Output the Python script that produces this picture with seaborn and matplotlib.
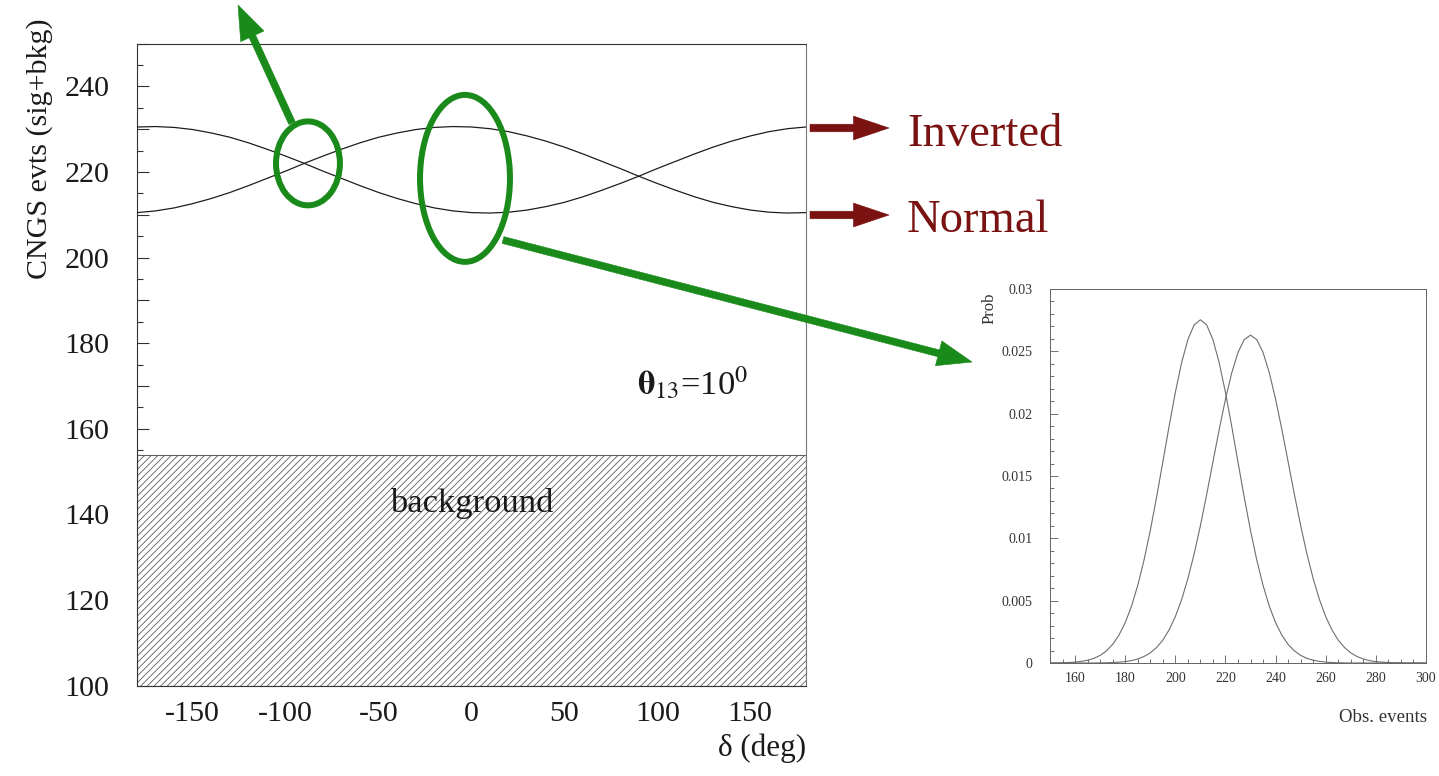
import numpy as np
import pandas as pd
import matplotlib
matplotlib.use("Agg")
import matplotlib.pyplot as plt
import seaborn as sns
from matplotlib.patches import Ellipse, FancyArrowPatch, ArrowStyle
from matplotlib.ticker import MultipleLocator, FuncFormatter

# ---- CP-phase scan: expected CNGS events (signal + background) ----
delta_deg = list(range(-180, 181, 10))
inverted_evts = [230.5, 230.6, 230.4, 229.9, 229.1, 228.1, 226.8, 225.3, 223.7, 222.0,
                 220.2, 218.5, 216.8, 215.2, 213.8, 212.6, 211.6, 210.9, 210.5, 210.4,
                 210.6, 211.1, 211.9, 212.9, 214.2, 215.7, 217.3, 219.0, 220.8, 222.5,
                 224.2, 225.8, 227.2, 228.4, 229.4, 230.1, 230.5]
normal_evts = [210.5, 210.9, 211.6, 212.6, 213.8, 215.2, 216.8, 218.5, 220.2, 222.0,
               223.7, 225.3, 226.8, 228.1, 229.1, 229.9, 230.4, 230.6, 230.5, 230.1,
               229.4, 228.4, 227.2, 225.8, 224.2, 222.5, 220.8, 219.0, 217.3, 215.7,
               214.2, 212.9, 211.9, 211.1, 210.6, 210.4, 210.5]
background_evts = 154.0

# ---- probability of the observed number of events at delta = 0 ----
obs_events = np.arange(150, 300.1, 2.5)
prob_normal = [0.0, 0.00001, 0.00002, 0.00004, 0.00007, 0.00013, 0.00022, 0.00037,
               0.00061, 0.00097, 0.00149, 0.00223, 0.00323, 0.00455, 0.00622, 0.00825,
               0.01062, 0.01328, 0.01611, 0.01898, 0.02170, 0.02408, 0.02594, 0.02712,
               0.02753, 0.02712, 0.02594, 0.02408, 0.02170, 0.01898, 0.01611, 0.01328,
               0.01062, 0.00825, 0.00622, 0.00455, 0.00323, 0.00223, 0.00149, 0.00097,
               0.00061, 0.00037, 0.00022, 0.00013, 0.00007, 0.00004, 0.00002, 0.00001,
               0.0, 0.0, 0.0, 0.0, 0.0, 0.0, 0.0, 0.0, 0.0, 0.0, 0.0, 0.0, 0.0]
prob_inverted = [0.0, 0.0, 0.0, 0.0, 0.0, 0.0, 0.0, 0.0,
                 0.00001, 0.00002, 0.00004, 0.00007, 0.00011, 0.00019, 0.00032, 0.00052,
                 0.00081, 0.00124, 0.00183, 0.00265, 0.00372, 0.00508, 0.00676, 0.00875,
                 0.01102, 0.01352, 0.01613, 0.01873, 0.02116, 0.02327, 0.02491, 0.02594,
                 0.02630, 0.02594, 0.02491, 0.02327, 0.02116, 0.01873, 0.01613, 0.01352,
                 0.01102, 0.00875, 0.00676, 0.00508, 0.00372, 0.00265, 0.00183, 0.00124,
                 0.00081, 0.00052, 0.00032, 0.00019, 0.00011, 0.00007, 0.00004, 0.00002,
                 0.00001, 0.0, 0.0, 0.0, 0.0]

scan = pd.DataFrame({
    "delta": delta_deg * 2,
    "evts": inverted_evts + normal_evts,
    "hierarchy": ["Inverted"] * len(delta_deg) + ["Normal"] * len(delta_deg),
})
prob = pd.DataFrame({
    "obs": list(obs_events) * 2,
    "prob": prob_normal + prob_inverted,
    "hierarchy": ["Normal"] * len(obs_events) + ["Inverted"] * len(obs_events),
})

sns.set_style("ticks")
plt.rcParams["font.family"] = ["Liberation Serif", "DejaVu Serif"]
plt.rcParams["mathtext.fontset"] = "stix"
plt.rcParams["hatch.linewidth"] = 0.75

W, H, DPI = 1439, 776, 80
fig = plt.figure(figsize=(W / DPI, H / DPI), dpi=DPI)
fig.patch.set_facecolor("white")


def fp(x, y):
    """Figure pixel position (from top-left) to figure fraction."""
    return (x / W, 1 - y / H)


GREEN = "#1a8a1a"
DARKRED = "#7a1212"
INK = "#1a1a1a"

# ---------------- main panel ----------------
ax = fig.add_axes([137 / W, (H - 685.7) / H, (806 - 137) / W, (685.7 - 43.5) / H])
ax.fill_between([-180, 180], 100, background_evts, facecolor="white",
                edgecolor="#5e5e5e", hatch="////", linewidth=1.0, zorder=1)
sns.lineplot(data=scan, x="delta", y="evts", hue="hierarchy",
             palette={"Inverted": INK, "Normal": INK}, linewidth=1.1,
             legend=False, sort=True, ax=ax, zorder=3)
ax.set_xlim(-180, 180)
ax.set_ylim(100, 250)
ax.set_xlabel("")
ax.set_ylabel("")
ax.xaxis.set_major_locator(MultipleLocator(50))
ax.xaxis.set_minor_locator(MultipleLocator(12.5))
ax.yaxis.set_major_locator(MultipleLocator(10))
ax.yaxis.set_minor_locator(MultipleLocator(5))
ax.yaxis.set_major_formatter(FuncFormatter(lambda v, p: f"{v:.0f}" if round(v) % 20 == 0 else ""))
ax.xaxis.set_major_formatter(FuncFormatter(lambda v, p: f"{v:.0f}"))
ax.tick_params(axis="both", which="both", direction="in", top=False, right=False,
               colors="#333333", labelcolor=INK, width=1.0)
ax.tick_params(axis="y", which="major", length=11, pad=25, labelsize=27)
ax.tick_params(axis="y", which="minor", length=5)
ax.tick_params(axis="x", which="major", length=14, pad=14, labelsize=27)
ax.tick_params(axis="x", which="minor", length=6)
for side, sp in ax.spines.items():
    sp.set_color("#333333" if side != "right" else "#777777")
    sp.set_linewidth(1.0)

ax.text(0, 142.5, "background", ha="center", va="center", fontsize=31, color=INK, zorder=4)
ax.text(89, 168, r"$\mathbf{\theta}_{13}$=10$^0$", ha="left", va="baseline",
        fontsize=31, color=INK)

# highlighted regions
ax.add_patch(Ellipse((-88, 222), 34.4, 19.6, fill=False, edgecolor=GREEN,
                     linewidth=5.4, zorder=5, clip_on=False))
ax.add_patch(Ellipse((-3.5, 218.5), 48.4, 39.0, fill=False, edgecolor=GREEN,
                     linewidth=5.4, zorder=5, clip_on=False))

fig.text(*fp(40, 18), "CNGS evts (sig+bkg)", rotation=90, ha="center", va="top",
         fontsize=27, color=INK)
fig.text(*fp(806, 748), "δ (deg)", ha="right", va="center", fontsize=28, color=INK)

# ---------------- arrows and hierarchy labels ----------------
def arrow(tail, tip, color, hl, hw, tw):
    a = FancyArrowPatch(fp(*tail), fp(*tip), transform=fig.transFigure,
                        arrowstyle=ArrowStyle("simple", head_length=hl, head_width=hw,
                                              tail_width=tw),
                        mutation_scale=1, color=color, linewidth=0.5,
                        shrinkA=0, shrinkB=0, zorder=6)
    fig.add_artist(a)


arrow((292, 123), (238, 5), GREEN, 31, 23, 6.3)
arrow((503, 240), (972, 362), GREEN, 31, 23, 6.3)
arrow((810, 128), (889, 128), DARKRED, 32, 21.5, 6.8)
arrow((810, 215), (889, 215), DARKRED, 32, 21.5, 6.8)

fig.text(*fp(907, 146), "Inverted", ha="left", va="baseline", fontsize=42, color=DARKRED)
fig.text(*fp(907, 232), "Normal", ha="left", va="baseline", fontsize=42, color=DARKRED)

# ---------------- inset: observed-event distributions ----------------
axi = fig.add_axes([1050 / W, (H - 663) / H, 376 / W, 374 / H])
sns.lineplot(data=prob, x="obs", y="prob", hue="hierarchy",
             palette={"Normal": "#6e6e6e", "Inverted": "#6e6e6e"}, linewidth=1.0,
             legend=False, ax=axi)
axi.set_xlim(150, 300)
axi.set_ylim(0, 0.03)
axi.set_xlabel("")
axi.set_ylabel("")
axi.xaxis.set_major_locator(MultipleLocator(20))
axi.xaxis.set_minor_locator(MultipleLocator(5))
axi.yaxis.set_major_locator(MultipleLocator(0.005))
axi.yaxis.set_minor_locator(MultipleLocator(0.001))
axi.yaxis.set_major_formatter(FuncFormatter(lambda v, p: f"{v:g}"))
axi.xaxis.set_major_formatter(FuncFormatter(lambda v, p: f"{v:.0f}"))
axi.tick_params(axis="both", which="both", direction="in", top=False, right=False,
                colors="#666666", labelcolor="#333333", width=0.8)
axi.tick_params(axis="y", which="major", length=7, pad=16, labelsize=12.5)
axi.tick_params(axis="y", which="minor", length=3.5)
axi.tick_params(axis="x", which="major", length=7, pad=8, labelsize=12.5)
axi.tick_params(axis="x", which="minor", length=3.5)
for sp in axi.spines.values():
    sp.set_color("#666666")
    sp.set_linewidth(0.9)
fig.text(*fp(990, 292), "Prob", rotation=90, ha="center", va="top", fontsize=15, color="#333333")
fig.text(*fp(1427, 717), "Obs. events", ha="right", va="center", fontsize=17, color="#333333")

fig.savefig("out.png", dpi=DPI, facecolor="white")
